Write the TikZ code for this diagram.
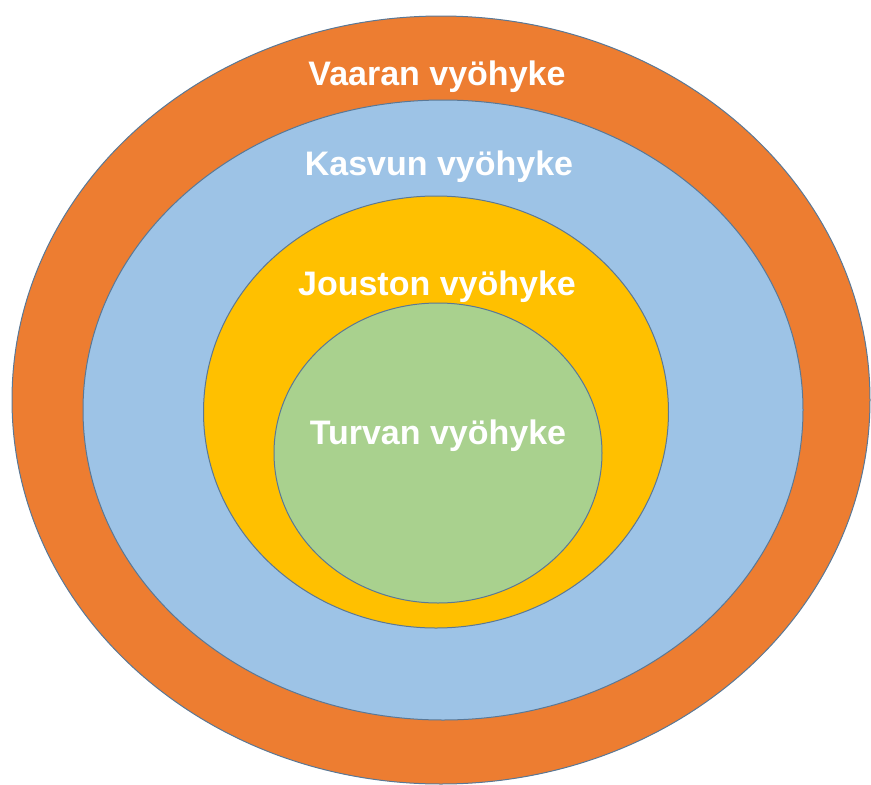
\documentclass[tikz,border=0pt]{standalone}
\usepackage{fontspec}
\setmainfont{Liberation Sans}
\usetikzlibrary{shapes.geometric}
\definecolor{zorange}{HTML}{ED7D31}
\definecolor{zblue}{HTML}{9DC3E6}
\definecolor{zyellow}{HTML}{FFC000}
\definecolor{zgreen}{HTML}{A9D18E}
\definecolor{zline}{HTML}{5A7896}
\tikzset{
  zone/.style={ellipse, draw=zline, line width=1pt, inner sep=0pt, outer sep=0pt},
  zlabel/.style={text=white, font=\fontsize{34}{37}\selectfont\bfseries, inner sep=0pt, anchor=base}
}
\begin{document}
\begin{tikzpicture}[x=1pt,y=-1pt]
\useasboundingbox (0,0) rectangle (871,785);
\node[zone, fill=zorange, minimum width=858pt, minimum height=768pt] (vaara) at (441,400) {};
\node[zone, fill=zblue, minimum width=720pt, minimum height=620pt] (kasvu) at (443,410) {};
\node[zone, fill=zyellow, minimum width=465pt, minimum height=432pt] (jousto) at (436,412) {};
\node[zone, fill=zgreen, minimum width=328pt, minimum height=300pt] (turva) at (438,453) {};
\node[zlabel] (tv) at (437,85) {Vaaran vyöhyke};
\node[zlabel] (tk) at (439,175) {Kasvun vyöhyke};
\node[zlabel] (tj) at (437,295) {Jouston vyöhyke};
\node[zlabel] (tt) at (438,444) {Turvan vyöhyke};
\end{tikzpicture}
\end{document}
